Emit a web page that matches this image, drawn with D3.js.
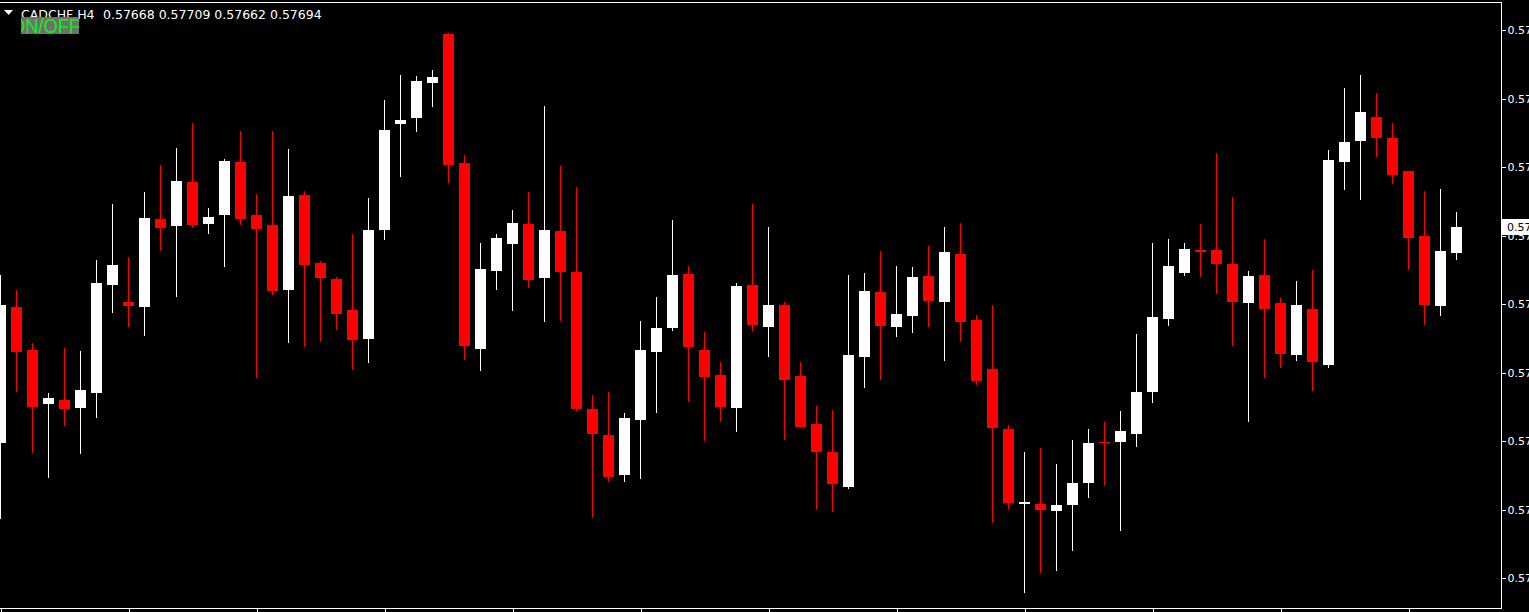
<!DOCTYPE html>
<html>
<head>
<meta charset="utf-8">
<script src="https://cdn.jsdelivr.net/npm/d3@7/dist/d3.min.js"></script>
<style>
  html, body { margin: 0; padding: 0; background: #000; overflow: hidden; }
  svg { display: block; }
</style>
</head>
<body>
<div id="chart"></div>
<script>
// ---- Data (CADCHF, H4) ----
const symbolLabel = "CADCHF,H4";
const lastQuote = ["0.57668", "0.57709", "0.57662", "0.57694"];
const candleIndex = d3.range(92);
const openPrices = [
  0.57478, 0.57614, 0.57571, 0.57517, 0.57521, 0.57513, 0.57528, 0.57636, 0.57619, 0.57614,
  0.57702, 0.57695, 0.57739, 0.57697, 0.57706, 0.57759, 0.57706, 0.57696, 0.57631, 0.57726,
  0.57658, 0.57642, 0.57611, 0.57582, 0.57691, 0.57797, 0.57803, 0.57838, 0.57887, 0.57758,
  0.57572, 0.57650, 0.57677, 0.57697, 0.57643, 0.57690, 0.57649, 0.57512, 0.57486, 0.57446,
  0.57501, 0.57569, 0.57593, 0.57647, 0.57571, 0.57546, 0.57513, 0.57636, 0.57594, 0.57616,
  0.57545, 0.57497, 0.57469, 0.57434, 0.57564, 0.57629, 0.57594, 0.57605, 0.57645, 0.57619,
  0.57667, 0.57601, 0.57552, 0.57492, 0.57417, 0.57417, 0.57410, 0.57416, 0.57438, 0.57479,
  0.57479, 0.57487, 0.57529, 0.57602, 0.57648, 0.57671, 0.57671, 0.57657, 0.57618, 0.57646,
  0.57618, 0.57566, 0.57612, 0.57556, 0.57759, 0.57780, 0.57804, 0.57783, 0.57750, 0.57685,
  0.57615, 0.57668
];
const highPrices = [
  0.57646, 0.57631, 0.57578, 0.57528, 0.57573, 0.57570, 0.57661, 0.57717, 0.57664, 0.57729,
  0.57756, 0.57773, 0.57798, 0.57713, 0.57762, 0.57790, 0.57727, 0.57790, 0.57772, 0.57730,
  0.57660, 0.57644, 0.57687, 0.57723, 0.57821, 0.57846, 0.57845, 0.57851, 0.57888, 0.57766,
  0.57678, 0.57687, 0.57711, 0.57729, 0.57815, 0.57755, 0.57734, 0.57526, 0.57529, 0.57508,
  0.57600, 0.57624, 0.57701, 0.57655, 0.57589, 0.57559, 0.57638, 0.57717, 0.57694, 0.57619,
  0.57559, 0.57515, 0.57511, 0.57646, 0.57648, 0.57670, 0.57655, 0.57654, 0.57675, 0.57694,
  0.57698, 0.57606, 0.57616, 0.57496, 0.57469, 0.57473, 0.57457, 0.57481, 0.57492, 0.57499,
  0.57510, 0.57587, 0.57678, 0.57682, 0.57678, 0.57697, 0.57768, 0.57724, 0.57650, 0.57682,
  0.57623, 0.57640, 0.57651, 0.57771, 0.57833, 0.57846, 0.57828, 0.57798, 0.57750, 0.57730,
  0.57732, 0.57709
];
const lowPrices = [
  0.57403, 0.57530, 0.57469, 0.57444, 0.57496, 0.57468, 0.57504, 0.57609, 0.57595, 0.57586,
  0.57671, 0.57625, 0.57694, 0.57688, 0.57655, 0.57697, 0.57544, 0.57627, 0.57579, 0.57575,
  0.57580, 0.57592, 0.57552, 0.57559, 0.57682, 0.57745, 0.57790, 0.57815, 0.57739, 0.57562,
  0.57551, 0.57632, 0.57611, 0.57634, 0.57600, 0.57601, 0.57511, 0.57404, 0.57440, 0.57440,
  0.57443, 0.57509, 0.57591, 0.57520, 0.57481, 0.57500, 0.57490, 0.57591, 0.57565, 0.57482,
  0.57494, 0.57412, 0.57410, 0.57433, 0.57534, 0.57542, 0.57585, 0.57589, 0.57595, 0.57561,
  0.57580, 0.57537, 0.57399, 0.57413, 0.57329, 0.57349, 0.57351, 0.57371, 0.57424, 0.57436,
  0.57391, 0.57475, 0.57519, 0.57596, 0.57646, 0.57645, 0.57628, 0.57576, 0.57500, 0.57544,
  0.57554, 0.57561, 0.57531, 0.57554, 0.57732, 0.57722, 0.57765, 0.57738, 0.57652, 0.57597,
  0.57606, 0.57662
];
const closePrices = [
  0.57616, 0.57569, 0.57514, 0.57523, 0.57512, 0.57531, 0.57638, 0.57656, 0.57615, 0.57703,
  0.57693, 0.57740, 0.57696, 0.57704, 0.57760, 0.57702, 0.57692, 0.57630, 0.57725, 0.57656,
  0.57643, 0.57607, 0.57581, 0.57691, 0.57791, 0.57801, 0.57840, 0.57844, 0.57756, 0.57575,
  0.57652, 0.57683, 0.57698, 0.57641, 0.57691, 0.57649, 0.57512, 0.57487, 0.57444, 0.57503,
  0.57571, 0.57593, 0.57646, 0.57574, 0.57544, 0.57514, 0.57635, 0.57596, 0.57616, 0.57541,
  0.57494, 0.57469, 0.57437, 0.57566, 0.57630, 0.57595, 0.57607, 0.57644, 0.57620, 0.57669,
  0.57599, 0.57540, 0.57493, 0.57418, 0.57419, 0.57411, 0.57416, 0.57438, 0.57478, 0.57478,
  0.57490, 0.57529, 0.57604, 0.57655, 0.57672, 0.57669, 0.57657, 0.57619, 0.57645, 0.57612,
  0.57567, 0.57616, 0.57559, 0.57761, 0.57779, 0.57809, 0.57783, 0.57746, 0.57683, 0.57616,
  0.57670, 0.57694
];
const priceTicks = [0.57891, 0.57822, 0.57754, 0.57685, 0.57617, 0.57548, 0.57480, 0.57411, 0.57343];
const timeTicks = [0, 8, 16, 24, 32, 40, 48, 56, 64, 72, 80, 88];
const bidPrice = 0.57694;

// ---- Layout ----
const W = 1529, H = 612;
const plotRight = 1501, plotBottom = 608;

const svg = d3.select("#chart").append("svg")
  .attr("width", W).attr("height", H)
  .style("background", "#000");

svg.append("rect").attr("width", W).attr("height", H).attr("fill", "#000");

const y = d3.scaleLinear().domain([0.57313, 0.57921]).range([plotBottom, 0]);
const x = d3.scaleLinear().domain([0, 91]).range([0.5, 1456.5]);

const candles = candleIndex.map(i => ({
  i, o: openPrices[i], h: highPrices[i], l: lowPrices[i], c: closePrices[i]
}));

svg.append("clipPath").attr("id", "plotclip")
  .append("rect").attr("x", 0).attr("y", 0).attr("width", plotRight).attr("height", plotBottom);

const plot = svg.append("g").attr("clip-path", "url(#plotclip)").attr("shape-rendering", "crispEdges");

const col = d => d.c >= d.o ? "#ffffff" : "#ff0000";

plot.selectAll("rect.wick").data(candles).enter().append("rect")
  .attr("class", "wick")
  .attr("x", d => Math.floor(x(d.i)))
  .attr("width", 1)
  .attr("y", d => Math.round(y(d.h)))
  .attr("height", d => Math.max(1, Math.round(y(d.l)) - Math.round(y(d.h)) + 1))
  .attr("fill", col);

plot.selectAll("rect.body").data(candles).enter().append("rect")
  .attr("class", "body")
  .attr("x", d => Math.floor(x(d.i)) - 5)
  .attr("width", 11)
  .attr("y", d => Math.round(y(Math.max(d.o, d.c))))
  .attr("height", d => Math.max(1, Math.round(y(Math.min(d.o, d.c))) - Math.round(y(Math.max(d.o, d.c)))))
  .attr("fill", col);

// ---- Frame ----
svg.append("line").attr("x1", plotRight + 0.5).attr("x2", plotRight + 0.5)
  .attr("y1", 2).attr("y2", plotBottom + 0.5).attr("stroke", "#fff").attr("stroke-width", 1);
svg.append("line").attr("x1", 0).attr("x2", plotRight + 1)
  .attr("y1", plotBottom + 0.5).attr("y2", plotBottom + 0.5).attr("stroke", "#fff").attr("stroke-width", 1);
svg.append("line").attr("x1", 0).attr("x2", plotRight + 1)
  .attr("y1", 2.5).attr("y2", 2.5).attr("stroke", "#fff").attr("stroke-width", 1);

// ---- Price axis ----
const yAxis = d3.axisRight(y).tickValues(priceTicks).tickSize(4).tickPadding(2)
  .tickFormat(d3.format(".5f"));
const gy = svg.append("g").attr("transform", `translate(${plotRight + 0.5},0)`).call(yAxis);
gy.select(".domain").remove();
gy.selectAll(".tick line").attr("stroke", "#fff").attr("shape-rendering", "crispEdges");
gy.selectAll(".tick text").attr("fill", "#fff")
  .style("font-family", "'DejaVu Sans', sans-serif").style("font-size", "11px");

// ---- Time axis (labels fall below the window) ----
const xAxis = d3.axisBottom(x).tickValues(timeTicks).tickSize(4).tickFormat("");
const gx = svg.append("g").attr("transform", `translate(0,${plotBottom + 0.5})`).call(xAxis);
gx.select(".domain").remove();
gx.selectAll(".tick line").attr("stroke", "#fff").attr("shape-rendering", "crispEdges");

// ---- Bid price label ----
const by = Math.round(y(bidPrice));
svg.append("rect").attr("x", plotRight + 1).attr("y", by - 8).attr("width", W - plotRight).attr("height", 16)
  .attr("fill", "#fff");
svg.append("text").attr("x", plotRight + 6).attr("y", by + 4)
  .attr("fill", "#000").style("font-family", "'DejaVu Sans', sans-serif").style("font-size", "11px")
  .text(d3.format(".5f")(bidPrice));

// ---- Header ----
svg.append("polygon").attr("points", "4,10 13,10 8.5,15").attr("fill", "#fff");
svg.append("text").attr("x", 21).attr("y", 19).attr("fill", "#fff")
  .style("font-family", "'DejaVu Sans', sans-serif").style("font-size", "12.5px")
  .text(symbolLabel);
svg.append("text").attr("x", 103).attr("y", 19).attr("fill", "#fff")
  .style("font-family", "'DejaVu Sans', sans-serif").style("font-size", "12.5px")
  .text(lastQuote.join(" "));

// ---- ON/OFF button ----
svg.append("clipPath").attr("id", "btnclip").append("rect")
  .attr("x", 21).attr("y", 17).attr("width", 58).attr("height", 17);
svg.append("rect").attr("x", 21).attr("y", 17).attr("width", 58).attr("height", 17).attr("fill", "#707070");
svg.append("text").attr("x", 11).attr("y", 33).attr("clip-path", "url(#btnclip)")
  .attr("fill", "#10f010")
  .attr("textLength", 69).attr("lengthAdjust", "spacingAndGlyphs")
  .style("font-family", "'Liberation Sans', sans-serif").style("font-size", "20px")
  .text("ON/OFF");
</script>
</body>
</html>
